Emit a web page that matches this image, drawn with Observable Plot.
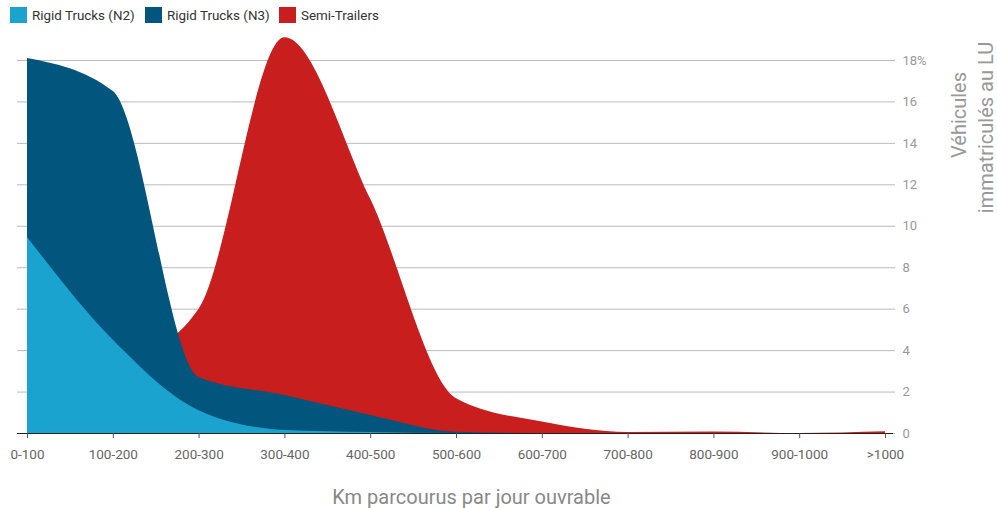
<!DOCTYPE html>
<html><head><meta charset="utf-8">
<script src="https://cdn.jsdelivr.net/npm/d3@7"></script>
<script src="https://cdn.jsdelivr.net/npm/@observablehq/plot@0.6"></script>
<style>
body{margin:0;font-family:Roboto,sans-serif;background:#fff;}
#legend{height:30px;position:relative;font-size:13.4px;color:#333;}
.item{position:absolute;top:7px;height:16px;display:flex;align-items:center;white-space:nowrap;}
.sw{width:17px;height:16px;margin-right:5px;}
</style></head><body>
<div id="legend"></div>
<div id="chart"></div>
<script>
const categories = ["0-100","100-200","200-300","300-400","400-500","500-600","600-700","700-800","800-900","900-1000",">1000"];
const n2   = [9.46, 4.5, 1.1, 0.15, 0.05, 0, 0, 0, 0, 0, 0];
const n3   = [18.1, 16.5, 2.7, 1.83, 0.87, 0.06, 0, 0, 0, 0, 0];
const semi = [1.2, 3.0, 6.0, 19.1, 11.3, 1.68, 0.55, 0.05, 0.07, 0, 0.08];
const seriesNames = ["Rigid Trucks (N2)", "Rigid Trucks (N3)", "Semi-Trailers"];
const colors = ["#1ba3cf", "#02557c", "#c81e1e"];
const yTicks = [0, 2, 4, 6, 8, 10, 12, 14, 16, 18];
const xTitle = "Km parcourus par jour ouvrable";
const yTitle1 = "Véhicules";
const yTitle2 = "immatriculés au LU";

const data = categories.map((c, i) => ({cat: c, n2: n2[i], n3: n3[i], semi: semi[i]}));

// legend
const legend = document.getElementById("legend");
const lefts = [10, 145, 279];
seriesNames.forEach((s, i) => {
  const d = document.createElement("div");
  d.className = "item";
  d.style.left = lefts[i] + "px";
  d.innerHTML = `<span class="sw" style="background:${colors[i]}"></span><span>${s}</span>`;
  legend.appendChild(d);
});

const chart = Plot.plot({
  width: 997,
  height: 478,
  marginTop: 30,
  marginBottom: 75,
  marginLeft: 27,
  marginRight: 112,
  style: {fontFamily: "Roboto, sans-serif", fontSize: "13px", background: "#fff"},
  x: {type: "point", domain: categories, padding: 0, round: false},
  y: {domain: [0, 18]},
  marks: [
    Plot.gridY(yTicks, {stroke: "#bbb", strokeOpacity: 1, insetLeft: -10, insetRight: -10}),
    Plot.areaY(data, {x: "cat", y: "semi", fill: colors[2], curve: "monotone-x"}),
    Plot.areaY(data, {x: "cat", y: "n3", fill: colors[1], curve: "monotone-x"}),
    Plot.areaY(data, {x: "cat", y: "n2", fill: colors[0], curve: "monotone-x"}),
    Plot.ruleY([0], {stroke: "#222", insetLeft: -10, insetRight: -8}),
    Plot.axisX({tickSize: 5, tickPadding: 11, stroke: "#555", fill: "#666", fontSize: 13.5, label: null}),
    Plot.axisY(yTicks, {anchor: "right", tickSize: 0, tickPadding: 17, fill: "#999", fontSize: 13, label: null,
      tickFormat: d => d === 18 ? "18%" : String(d)}),
    Plot.text([yTitle1], {frameAnchor: "top-right", rotate: -90, dx: 73.6, dy: 54.5, fontSize: 20, fill: "#999", lineAnchor: "middle", textAnchor: "middle"}),
    Plot.text([yTitle2], {frameAnchor: "top-right", rotate: -90, dx: 100.6, dy: 67, fontSize: 20, fill: "#999", lineAnchor: "middle", textAnchor: "middle"}),
    Plot.text([xTitle], {frameAnchor: "bottom", dx: 15, dy: 64, fontSize: 20, fill: "#888", lineAnchor: "middle"})
  ]
});
document.getElementById("chart").appendChild(chart);
</script>
</body></html>
